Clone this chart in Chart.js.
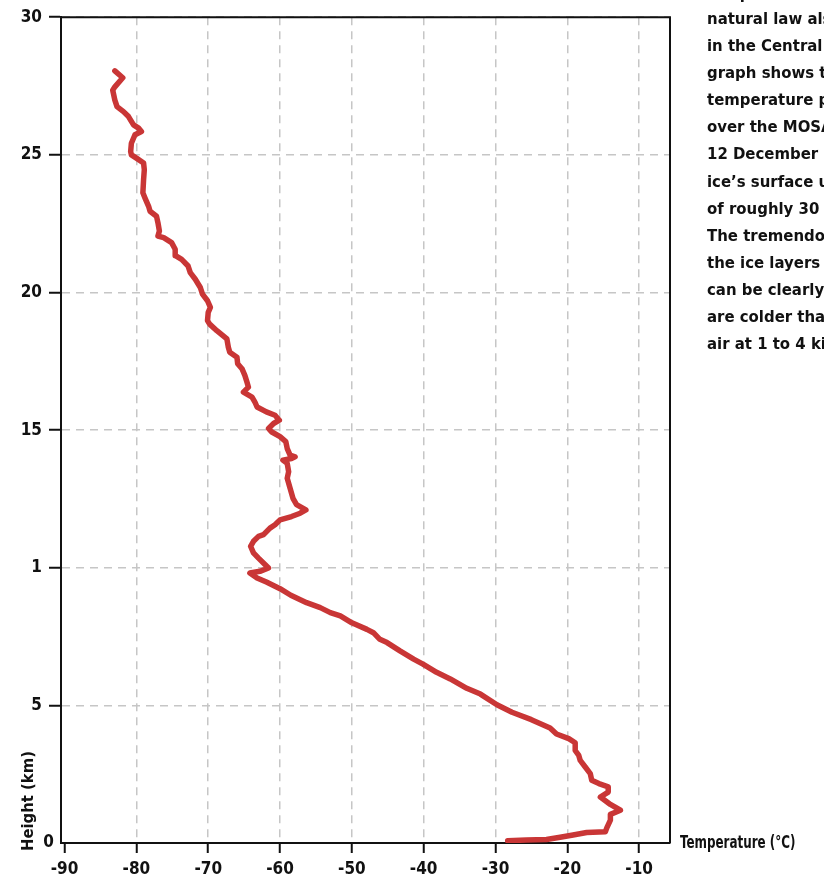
<!DOCTYPE html>
<html>
<head>
<meta charset="utf-8">
<script src="https://cdn.jsdelivr.net/npm/chart.js@4.4.1/dist/chart.umd.min.js"></script>
<style>
  html, body { margin: 0; padding: 0; background: #ffffff; width: 824px; height: 882px; overflow: hidden; }
  #wrap { position: relative; width: 824px; height: 882px; }
  #chart { position: absolute; left: 0; top: 0; }
  .note, .note0 {
    position: absolute; left: 707px; width: 117px; overflow: hidden;
    white-space: nowrap; font-family: "DejaVu Sans Condensed", "DejaVu Sans", sans-serif;
    font-weight: bold; font-size: 16.6px; line-height: 27.1px; color: #111;
  }
  .note { top: 5px; }
  .note0 { top: -20.5px; }
  .ytitle {
    position: absolute; left: 18px; top: 851px; transform-origin: 0 0; transform: rotate(-90deg);
    white-space: nowrap; font-family: "DejaVu Sans Condensed", "DejaVu Sans", sans-serif;
    font-weight: bold; font-size: 16.5px; line-height: 20px; color: #111;
  }
  .xtitle {
    position: absolute; left: 680px; top: 832px; white-space: nowrap;
    transform-origin: 0 50%; transform: scaleX(0.78);
    font-family: "DejaVu Sans Condensed", "DejaVu Sans", sans-serif;
    font-weight: bold; font-size: 17px; line-height: 20px; color: #111;
  }
</style>
</head>
<body>
<div id="wrap">
  <canvas id="chart" width="824" height="882"></canvas>
  <div class="note0">temperature drops. This</div>
  <div class="note">natural law also applies<br>in the Central Arctic. This<br>graph shows the vertical<br>temperature profile measured<br>over the MOSAiC floe on<br>12 December 2019, from the<br>ice’s surface up to an altitude<br>of roughly 30 kilometres.<br>The tremendous cooling of<br>the ice layers near the surface<br>can be clearly seen: they<br>are colder than the overlying<br>air at 1 to 4 kilometres.</div>
  <div class="ytitle">Height (km)</div>
  <div class="xtitle">Temperature (°C)</div>
</div>
<script>
// Temperature (°C) and height (km) of the sounding, from the surface upward
const temps = [
  -28.3, -25.7, -22.9, -21.0, -19.2, -17.3, -14.7, -14.5, -14.0, -14.0,
  -12.6, -14.0, -15.4, -14.3, -14.3, -15.6, -16.6, -16.8, -17.5, -18.2,
  -18.4, -18.9, -18.9, -19.8, -21.5, -22.4, -25.0, -27.7, -29.8, -32.1,
  -34.0, -36.3, -38.2, -40.1, -41.4, -43.3, -45.1, -46.1, -47.0, -47.9,
  -50.0, -51.6, -53.0, -54.4, -56.3, -58.5, -60.0, -61.9, -63.2, -64.2,
  -62.8, -61.6, -62.1, -63.0, -63.7, -64.1, -63.7, -63.0, -62.3, -61.4,
  -60.7, -60.0, -58.4, -57.2, -56.4, -57.7, -58.2, -58.6, -59.0, -58.8,
  -59.0, -59.6, -58.4, -57.9, -58.6, -59.0, -59.2, -60.0, -61.2, -61.6,
  -60.9, -60.1, -60.7, -61.9, -63.2, -63.5, -63.9, -65.1, -64.4, -64.6,
  -64.9, -65.3, -65.9, -66.0, -67.0, -67.2, -67.4, -68.8, -69.8, -70.1,
  -70.0, -69.7, -70.1, -70.8, -71.1, -71.8, -72.5, -72.8, -73.7, -74.5,
  -74.6, -75.1, -76.2, -77.0, -76.8, -77.0, -77.2, -78.1, -78.3, -78.8,
  -79.1, -79.0, -78.9, -79.0, -80.0, -80.7, -80.8, -80.7, -80.2, -79.3,
  -79.7, -80.4, -81.1, -81.8, -82.7, -83.0, -83.3, -83.0, -81.9, -83.0
];
const heights = [
  0.08, 0.11, 0.13, 0.21, 0.29, 0.38, 0.41, 0.55, 0.83, 1.04,
  1.19, 1.40, 1.67, 1.85, 2.04, 2.16, 2.28, 2.52, 2.76, 3.00,
  3.18, 3.36, 3.64, 3.79, 3.96, 4.18, 4.48, 4.75, 5.02, 5.41,
  5.62, 5.96, 6.20, 6.50, 6.68, 6.98, 7.28, 7.40, 7.64, 7.76,
  8.00, 8.25, 8.37, 8.55, 8.73, 9.00, 9.24, 9.48, 9.63, 9.81,
  9.87, 9.99, 10.12, 10.35, 10.54, 10.78, 10.96, 11.14, 11.20, 11.44,
  11.56, 11.74, 11.86, 11.98, 12.10, 12.29, 12.52, 12.89, 13.25, 13.49,
  13.79, 13.91, 13.97, 14.03, 14.09, 14.33, 14.58, 14.76, 14.94, 15.06,
  15.24, 15.36, 15.54, 15.66, 15.84, 16.02, 16.20, 16.38, 16.56, 16.74,
  16.99, 17.23, 17.41, 17.65, 17.83, 18.01, 18.31, 18.61, 18.85, 18.98,
  19.28, 19.46, 19.70, 19.94, 20.18, 20.48, 20.72, 20.96, 21.20, 21.33,
  21.57, 21.81, 21.99, 22.05, 22.23, 22.53, 22.77, 22.95, 23.13, 23.43,
  23.62, 24.10, 24.46, 24.70, 24.88, 25.00, 25.12, 25.42, 25.73, 25.85,
  25.97, 26.09, 26.39, 26.57, 26.75, 26.99, 27.35, 27.47, 27.80, 28.05
];
const xTickValues = [-90, -80, -70, -60, -50, -40, -30, -20, -10];
const yTickValues = [0, 5, 10, 15, 20, 25, 30];
const yTickLabels = ['0', '5', '1', '15', '20', '25', '30'];

const points = temps.map((t, i) => ({ x: t, y: heights[i] }));
const tickFontFamily = '"DejaVu Sans Condensed", "DejaVu Sans", sans-serif';
const tickFont = { family: tickFontFamily, size: 17, weight: 'bold' };

// Frame on top/right, and the "0" label of the height axis which sits closer to the axis
const framePlugin = {
  id: 'frame',
  afterDraw(chart) {
    const { ctx, chartArea: a, scales } = chart;
    ctx.save();
    ctx.strokeStyle = '#111';
    ctx.lineWidth = 2;
    ctx.beginPath();
    ctx.moveTo(a.left, a.top);
    ctx.lineTo(a.right, a.top);
    ctx.lineTo(a.right, a.bottom);
    ctx.stroke();
    ctx.fillStyle = '#111';
    ctx.font = 'bold 17px ' + tickFontFamily;
    ctx.textAlign = 'right';
    ctx.textBaseline = 'middle';
    ctx.fillText(yTickLabels[0], a.left - 7, scales.y.getPixelForValue(yTickValues[0]));
    ctx.restore();
  }
};

new Chart(document.getElementById('chart'), {
  type: 'scatter',
  data: {
    datasets: [{
      data: points,
      showLine: true,
      borderColor: '#c93636',
      backgroundColor: '#c93636',
      borderWidth: 5.5,
      borderCapStyle: 'round',
      borderJoinStyle: 'round',
      pointRadius: 0,
      tension: 0
    }]
  },
  options: {
    responsive: false,
    animation: false,
    events: [],
    layout: { padding: { top: 13, right: 154, left: 0, bottom: 0 } },
    plugins: { legend: { display: false }, tooltip: { enabled: false } },
    scales: {
      x: {
        type: 'linear',
        min: -90.5,
        max: -5.7,
        afterBuildTicks: (axis) => { axis.ticks = xTickValues.map(v => ({ value: v })); },
        afterFit: (scale) => { scale.height = 39; },
        grid: {
          color: (c) => (c.tick && c.tick.value === -90) ? 'rgba(0,0,0,0)' : '#c6c6c6',
          lineWidth: 1.5,
          tickLength: 10,
          tickColor: '#111',
          tickWidth: 2,
          tickBorderDash: []
        },
        border: { display: true, color: '#111', width: 2, dash: [8, 6] },
        ticks: {
          font: tickFont, color: '#111', padding: 6, maxRotation: 0,
          callback: (v) => String(v)
        }
      },
      y: {
        type: 'linear',
        min: 0,
        max: 30,
        afterBuildTicks: (axis) => { axis.ticks = yTickValues.map(v => ({ value: v })); },
        afterFit: (scale) => { scale.width = 61; },
        grid: {
          color: '#c6c6c6',
          lineWidth: 1.5,
          tickLength: 12,
          tickColor: (c) => (c.tick && c.tick.value === 0) ? 'rgba(0,0,0,0)' : '#111',
          tickWidth: 2,
          tickBorderDash: []
        },
        border: { display: true, color: '#111', width: 2, dash: [8, 6] },
        ticks: {
          font: tickFont, color: '#111', padding: 7,
          callback: (v) => (v === yTickValues[0] ? '' : yTickLabels[yTickValues.indexOf(v)])
        }
      }
    }
  },
  plugins: [framePlugin]
});
</script>
</body>
</html>
